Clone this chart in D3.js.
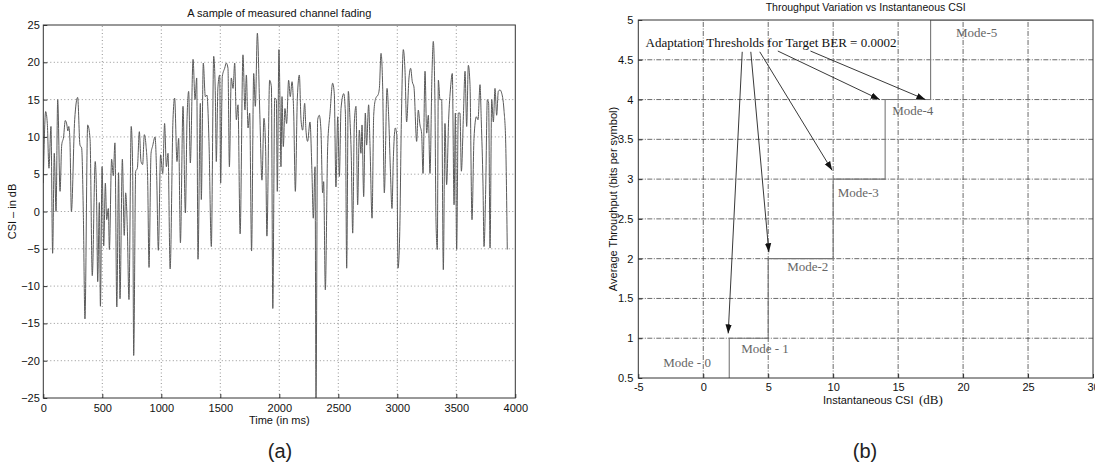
<!DOCTYPE html>
<html><head><meta charset="utf-8">
<script src="https://cdn.jsdelivr.net/npm/d3@7"></script>
<style>body{margin:0;background:#fff;} svg{display:block;}</style>
</head><body>
<svg id="c" width="1095" height="469"></svg>
<script>
// ---------- Panel (a): measured channel fading ----------
const csiTime = [0,20,34,48,65,79,93,108,122,142,156,172,186,200,208,216,226,238,266,291,311,325,339,353,376,396,415,440,452,461,475,484,498,512,526,537,551,560,579,593,607,623,638,650,670,686,698,712,726,745,757,766,783,797,814,828,842,856,870,884,896,913,927,947,961,975,994,
1012,1028,1043,1057,1075,1099,1113,1133,1147,1162,1184,1204,1218,1232,1246,1269,1286,1300,1311,1331,1339,1356,1373,1387,1404,1424,1444,1458,1466,1480,1495,1503,1517,1537,1551,1565,1577,1593,1608,1622,1636,1650,1668,1692,1709,1721,1735,1749,1765,1783,1797,1814,1834,1853,1870,1884,1895,1918,1933,1945,1961,1975,1983,1997,
2006,2014,2023,2034,2048,2062,2079,2093,2108,2122,2136,2153,2170,2184,2198,2215,2226,2240,2260,2277,2288,2303,2311,2325,2339,2353,2367,2376,2390,2410,2430,2452,2466,2480,2495,2509,2523,2546,2560,2571,2585,2599,2610,2622,2636,2650,2664,2678,2692,2701,2715,2729,2740,2757,2769,2786,2800,2814,2825,2836,2848,2862,2876,2890,2913,2927,2941,2955,2966,2983,2995,
3006,3020,3034,3051,3065,3079,3099,3113,3127,3141,3164,3178,3192,3206,3218,3235,3249,3263,3277,3294,3305,3319,3328,3339,3348,3362,3376,3390,3404,3418,3435,3452,3466,3481,3492,3503,3517,3531,3543,3560,3574,3588,3602,3616,3633,3650,3670,3684,3701,3712,3726,3735,3749,3763,3774,3786,3800,3814,3828,3842,3856,3870,3882,3904,3918,3932];
const csiValue = [3.8,13.4,11.8,5.8,11.4,-5.6,7.8,0,15,2.7,8.9,10,12.2,11.6,10.8,11.4,9.4,0,12.3,15.3,8.9,8.5,0,-14.4,11.6,9.8,-8.6,6.7,1.3,-9.4,1.2,-12.7,6,-4.6,3.8,-1.1,0.4,-5.1,7,4.8,9.2,-12.8,5.2,-11.7,7,-3.2,2.5,-2.2,-11.8,11.4,6,-19.3,5.4,5.8,10.7,6.7,6.3,10.3,8.9,4.7,-7.5,7.8,8.8,10,4.7,-5.2,7.6,
5.1,11.8,6,7.8,-7.7,12.3,15.2,6.7,9.8,-4.2,14.1,-0.2,12.3,16.1,6.5,20.4,15,17.9,-6.4,14.5,1.6,19.9,15.4,15.6,9.4,-4.7,20.8,15.6,6.7,16.7,18.3,3.8,18.1,19.2,19.9,19.2,6,17.9,16.5,19.9,12.3,14.3,-3,21,13.6,18.3,11.2,13.2,-5.3,18.5,14.1,23.9,13.6,4.2,12.5,8.5,-3.3,17.6,16.7,-13,15.2,15,2.7,21.7,
14.5,6,15.4,8.7,13.8,11.8,17.6,15.4,17.4,13.2,2.7,15.2,18.3,12.3,10.9,14.5,10.9,9.4,12,5.1,-0.9,6,-25,12.3,12.9,10.9,2.5,4,-10.5,8.7,13.2,17.2,15.8,3.3,12.7,4.7,13.8,15.8,13.2,-7.6,16.1,12.3,7.4,-2.9,12,14.1,0.9,10.9,7.8,11.6,2,13.2,8.9,14.3,8.7,-0.9,12.9,15,15.4,15.6,16.5,21.2,16.7,2.5,16.5,12.7,5.8,0.4,6.9,11.2,10.3,
-7.6,-3.3,11.8,21.7,19,12,17.9,19.2,17.4,16.7,9.4,13.6,11.6,10.5,5.1,18.8,10.5,12.9,5.1,18.5,22.8,14.5,-1.3,-5.1,17.6,15,15,-7.8,11.8,3.6,12.3,16.7,18.5,0.9,13.2,-5.1,13.2,13.2,5.4,12.7,18.8,11.4,19.6,17,-1.1,9.8,12.7,12.3,17,12,3.8,-4.7,2.9,15,14.5,-4.9,15,12,16.5,12.9,16.1,16.3,16,13.6,9.6,-5.1];
const timeTicks = [0,500,1000,1500,2000,2500,3000,3500,4000];
const csiTicks = [-25,-20,-15,-10,-5,0,5,10,15,20,25];

// ---------- Panel (b): throughput vs instantaneous CSI ----------
const csiThresholds = [-5,2,5,10,14,17.5,30];
const throughputLevels = [0,1,2,3,4,5,5];
const csiAxisTicks = [-5,0,5,10,15,20,25,30];
const throughputTicks = [0.5,1,1.5,2,2.5,3,3.5,4,4.5,5];
const modeNames = ["Mode - 0","Mode - 1","Mode-2","Mode-3","Mode-4","Mode-5"];
const modeLabelX = [-3.08,2.92,6.46,10.35,14.54,19.46];
const modeLabelY = [0.64,0.81,1.84,2.78,3.8,4.79];
const annotationText = "Adaptation Thresholds for Target BER = 0.0002";
const annotationX = -4.44, annotationY = 4.66;
const arrowFromX = [3.0,3.66,4.35,5.74,8.25];
const arrowFromY = [4.6,4.6,4.6,4.61,4.61];
const arrowToX = [1.92,5.05,9.92,13.58,17.1];
const arrowToY = [1.06,2.08,3.11,4.0,4.0];

const svg = d3.select("#c");
const SANS = "'Liberation Sans', Arial, Helvetica, sans-serif";
const SERIF = "'Liberation Serif', 'Times New Roman', serif";

// ===== Panel (a) =====
const xA = d3.scaleLinear().domain([0,4000]).range([43.3,515.3]);
const yA = d3.scaleLinear().domain([-25,25]).range([398,25]);
const gA = svg.append("g");
gA.append("defs").append("clipPath").attr("id","clipA").append("rect")
  .attr("x",xA(0)).attr("y",yA(25)).attr("width",xA(4000)-xA(0)).attr("height",yA(-25)-yA(25));
gA.append("g").selectAll("line").data(timeTicks.slice(1,-1)).join("line")
  .attr("x1",d=>xA(d)).attr("x2",d=>xA(d)).attr("y1",yA(-25)).attr("y2",yA(25))
  .attr("stroke","#777").attr("stroke-width",0.8).attr("stroke-dasharray","1,2.5");
gA.append("g").selectAll("line").data(csiTicks.slice(1,-1)).join("line")
  .attr("y1",d=>yA(d)).attr("y2",d=>yA(d)).attr("x1",xA(0)).attr("x2",xA(4000))
  .attr("stroke","#777").attr("stroke-width",0.8).attr("stroke-dasharray","1,2.5");
const pts = csiTime.map((t,i)=>[t,csiValue[i]]);
gA.append("path").datum(pts).attr("clip-path","url(#clipA)")
  .attr("d", d3.line().x(d=>xA(d[0])).y(d=>yA(d[1])).curve(d3.curveMonotoneX))
  .attr("fill","none").attr("stroke","#5a5a5a").attr("stroke-width",1);
const axA_b = gA.append("g").attr("transform",`translate(0,${yA(-25)})`)
  .call(d3.axisBottom(xA).tickValues(timeTicks).tickSize(-4).tickSizeOuter(0).tickPadding(6)
    .tickFormat(d=>String(d)));
const axA_l = gA.append("g").attr("transform",`translate(${xA(0)},0)`)
  .call(d3.axisLeft(yA).tickValues(csiTicks).tickSize(-4).tickSizeOuter(0).tickPadding(3.5)
    .tickFormat(d=> d<0 ? "\u2212"+Math.abs(d) : String(d)));
[axA_b,axA_l].forEach(a=>{
  a.select(".domain").remove();
  a.selectAll("line").attr("stroke","#333");
  a.selectAll("text").attr("font-family",SANS).attr("font-size",11).attr("fill","#111");
});
gA.append("rect").attr("x",xA(0)).attr("y",yA(25)).attr("width",xA(4000)-xA(0)).attr("height",yA(-25)-yA(25))
  .attr("fill","none").attr("stroke","#333").attr("stroke-width",1);
gA.append("text").attr("x",(xA(0)+xA(4000))/2).attr("y",17).attr("text-anchor","middle")
  .attr("font-family",SANS).attr("font-size",11).attr("fill","#111").text("A sample of measured channel fading");
gA.append("text").attr("x",(xA(0)+xA(4000))/2).attr("y",424).attr("text-anchor","middle")
  .attr("font-family",SANS).attr("font-size",11).attr("fill","#111").text("Time (in ms)");
gA.append("text").attr("transform",`translate(16,${(yA(25)+yA(-25))/2}) rotate(-90)`).attr("text-anchor","middle")
  .attr("font-family",SANS).attr("font-size",11).attr("fill","#111").text("CSI \u2013 in dB");
gA.append("text").attr("x",280).attr("y",458).attr("text-anchor","middle")
  .attr("font-family",SANS).attr("font-size",20).attr("fill","#222").text("(a)");

// ===== Panel (b) =====
const xB = d3.scaleLinear().domain([-5,30]).range([638.3,1093]);
const yB = d3.scaleLinear().domain([0.5,5]).range([378,20]);
const gB = svg.append("g");
gB.append("defs").append("clipPath").attr("id","clipB").append("rect")
  .attr("x",xB(-5)).attr("y",yB(5)).attr("width",xB(30)-xB(-5)).attr("height",yB(0.5)-yB(5));
gB.append("g").selectAll("line").data(csiAxisTicks.slice(1,-1)).join("line")
  .attr("x1",d=>xB(d)).attr("x2",d=>xB(d)).attr("y1",yB(0.5)).attr("y2",yB(5))
  .attr("stroke","#444").attr("stroke-width",0.8).attr("stroke-dasharray","5,1.5,1,1.5");
gB.append("g").selectAll("line").data(throughputTicks.slice(1,-1)).join("line")
  .attr("y1",d=>yB(d)).attr("y2",d=>yB(d)).attr("x1",xB(-5)).attr("x2",xB(30))
  .attr("stroke","#444").attr("stroke-width",0.8).attr("stroke-dasharray","5,1.5,1,1.5");
const stepPts = csiThresholds.map((x,i)=>[x,throughputLevels[i]]);
gB.append("path").datum(stepPts).attr("clip-path","url(#clipB)")
  .attr("d", d3.line().x(d=>xB(d[0])).y(d=>yB(d[1])).curve(d3.curveStepAfter))
  .attr("fill","none").attr("stroke","#777").attr("stroke-width",1.1);
const axB_b = gB.append("g").attr("transform",`translate(0,${yB(0.5)})`)
  .call(d3.axisBottom(xB).tickValues(csiAxisTicks).tickSize(-4).tickSizeOuter(0).tickPadding(5)
    .tickFormat(d=> d<0 ? "-"+Math.abs(d) : String(d)));
const axB_l = gB.append("g").attr("transform",`translate(${xB(-5)},0)`)
  .call(d3.axisLeft(yB).tickValues(throughputTicks).tickSize(-4).tickSizeOuter(0).tickPadding(5)
    .tickFormat(d=>String(d)));
[axB_b,axB_l].forEach(a=>{
  a.select(".domain").remove();
  a.selectAll("line").attr("stroke","#333");
  a.selectAll("text").attr("font-family",SANS).attr("font-size",11).attr("fill","#111");
});
gB.append("rect").attr("x",xB(-5)).attr("y",yB(5)).attr("width",xB(30)-xB(-5)).attr("height",yB(0.5)-yB(5))
  .attr("fill","none").attr("stroke","#333").attr("stroke-width",1);
gB.append("g").selectAll("text").data(modeNames).join("text")
  .attr("x",(d,i)=>xB(modeLabelX[i])).attr("y",(d,i)=>yB(modeLabelY[i]))
  .attr("font-family",SERIF).attr("font-size",13).attr("fill","#666").text(d=>d);
gB.append("text").attr("x",xB(annotationX)).attr("y",yB(annotationY))
  .attr("font-family",SERIF).attr("font-size",13).attr("fill","#111").text(annotationText);
svg.append("defs").append("marker").attr("id","arrowHead").attr("viewBox","0 0 10 10")
  .attr("refX",10).attr("refY",5).attr("markerWidth",9).attr("markerHeight",9)
  .attr("markerUnits","userSpaceOnUse").attr("orient","auto")
  .append("path").attr("d","M0,1.5 L10,5 L0,8.5 Z").attr("fill","#111");
gB.append("g").selectAll("line").data(arrowFromX).join("line")
  .attr("x1",(d,i)=>xB(arrowFromX[i])).attr("y1",(d,i)=>yB(arrowFromY[i]))
  .attr("x2",(d,i)=>xB(arrowToX[i])).attr("y2",(d,i)=>yB(arrowToY[i]))
  .attr("stroke","#222").attr("stroke-width",0.9).attr("marker-end","url(#arrowHead)");
gB.append("text").attr("x",(xB(-5)+xB(30))/2).attr("y",11).attr("text-anchor","middle")
  .attr("font-family",SANS).attr("font-size",10.5).attr("fill","#111").text("Throughput Variation vs Instantaneous CSI");
gB.append("text").attr("x",823).attr("y",404)
  .attr("font-family",SANS).attr("font-size",11).attr("fill","#111").text("Instantaneous CSI");
gB.append("text").attr("x",919).attr("y",404)
  .attr("font-family",SERIF).attr("font-size",13).attr("fill","#111").text("(dB)");
gB.append("text").attr("transform",`translate(617,${(yB(5)+yB(0.5))/2}) rotate(-90)`).attr("text-anchor","middle")
  .attr("font-family",SANS).attr("font-size",11).attr("fill","#111").text("Average Throughput (bits per symbol)");
gB.append("text").attr("x",865).attr("y",458).attr("text-anchor","middle")
  .attr("font-family",SANS).attr("font-size",20).attr("fill","#222").text("(b)");
</script>
</body></html>
